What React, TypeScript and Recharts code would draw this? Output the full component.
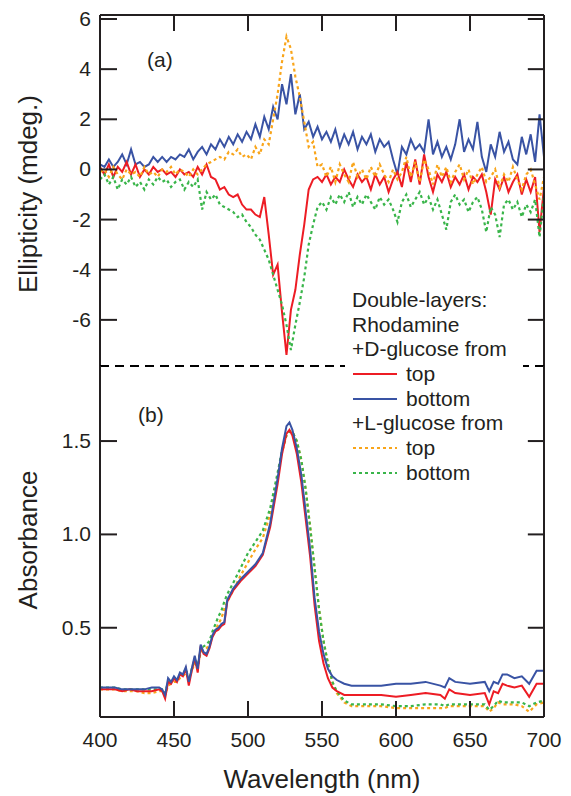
import React from "react";
import { LineChart, Line, XAxis, YAxis, ReferenceLine } from "recharts";

// ---- data ----
// (a) circular dichroism, mdeg
const wl = [
  400, 403, 406, 409, 412, 415, 418, 421, 424, 427,
  430, 433, 436, 439, 442, 445, 448, 451, 454, 457,
  460, 463, 466, 469, 472, 475, 478, 481, 484, 487,
  490, 493, 496, 499, 502, 505, 508, 511, 514, 517,
  520, 523, 526, 529, 532, 535, 538, 541, 544, 547,
  550, 553, 556, 559, 562, 565, 568, 571, 574, 577,
  580, 583, 586, 589, 592, 595, 598, 601, 604, 607,
  610, 613, 616, 619, 622, 625, 628, 631, 634, 637,
  640, 643, 646, 649, 652, 655, 658, 661, 664, 667,
  670, 673, 676, 679, 682, 685, 688, 691, 694, 697,
  700,
];

const cdDBottom = [
  0.2, 0.1, 0.4, 0.1, 0.3, 0.6, 0.2, 0.8, 0.2, 0.3,
  0.1, 0.2, 0.5, 0.3, 0.5, 0.3, 0.5, 0.4, 0.6, 0.5,
  0.8, 0.4, 0.7, 0.9, 0.6, 1.0, 0.8, 1.2, 0.9, 1.3,
  1.0, 1.4, 1.1, 1.5, 1.2, 1.8, 1.3, 2.1, 1.6, 2.5,
  2.0, 3.4, 2.6, 3.8, 2.2, 3.0, 1.6, 1.9, 1.3, 1.7,
  1.2, 1.5, 1.1, 1.6, 0.9, 1.4, 1.0, 1.5, 0.8, 1.3,
  1.0, 1.4, 0.7, 1.2, 0.9, 1.1, 0.4, -0.2, 0.9, 0.6,
  1.2, 0.8, 1.0, 0.7, 2.0, 0.6, 1.1, 0.5, 0.9, 0.4,
  1.0, 2.0, 0.7, 1.2, 0.8, 1.9, 0.5, -0.1, 1.0, 0.5,
  1.5, 0.7, 1.1, 0.4, 0.2, 1.3, 0.6, 1.4, 0.3, 2.2,
  0.5,
];

const cdDTop = [
  0.1, -0.2, 0.2, -0.3, 0.1, -0.1, 0.3, -0.2, 0.2, -0.3,
  0.0, -0.2, 0.1, -0.1, 0.0, -0.2, -0.1, -0.3, 0.0, -0.2,
  -0.1, -0.3, 0.1, -0.2, 0.2, -0.3, -0.4, -0.8, -0.7, -1.0,
  -1.1, -1.0, -1.4, -1.6, -1.6, -1.8, -1.9, -1.1, -2.6, -4.2,
  -3.8, -5.7, -7.4, -5.6, -4.8, -3.4, -2.2, -0.8, -0.4, -0.3,
  -0.5, -0.2, -0.6, -0.3, -0.5, 0.0, -0.4, -0.7, -0.2, -0.5,
  -0.3, -0.8, -0.2, -0.6, -0.3, -0.9, -0.4, -0.1, -0.7, 0.3,
  -0.5, 0.4, -0.6, 0.6, -0.3, -0.9, -0.2, -0.5, -0.1, -0.7,
  -0.3, -0.6, -0.2, -0.8, -0.3, -0.5, -0.2, -0.9, -1.8, -0.4,
  -0.8, -0.3, -0.9, -0.5, -0.2, -1.0, -0.4, -0.9, -0.3, -2.5,
  -0.7,
];

const cdLTop = [
  -0.1, 0.0, -0.3, 0.1, -0.2, -0.4, 0.0, -0.2, -0.1, -0.3,
  0.1, -0.2, -0.1, -0.3, 0.0, -0.1, 0.1, -0.2, 0.0, -0.1,
  -0.3, 0.0, -0.2, 0.0, 0.2, 0.3, 0.4, 0.5, 0.4, 0.7,
  0.6, 0.8, 0.5, 0.6, 0.4, 0.9, 0.6, 1.2, 1.0, 2.0,
  3.0, 4.3, 5.3, 4.8, 3.7, 2.9, 1.9, 0.9, 1.1, 0.1,
  0.2, -0.3, 0.1, -0.5, 0.2, -0.2, -0.5, 0.3, -0.3, 0.0,
  -0.4, 0.1, -0.3, 0.2, -0.2, -0.5, 0.0, -0.4, -0.1, 0.5,
  -0.3, 0.3, -0.5, 0.4, 0.0, -0.6, 0.2, -0.3, 0.1, -0.5,
  -0.1, 0.2, -0.4, 0.0, -0.6, -0.2, 0.1, -0.5, -0.3, 0.0,
  -0.7, -0.2, -0.5, 0.1, -0.4, -0.8, -0.2, 0.0, -0.6, -1.2,
  -0.3,
];

const cdLBottom = [
  -0.4, -0.2, -0.6, -0.3, -0.8, -0.4, -0.6, -0.3, -0.7, -0.5,
  -0.8, -0.4, -0.6, -0.3, -0.5, -0.4, -0.7, -0.5, -0.4, -0.8,
  -0.5, -0.7, -0.4, -1.6, -0.9, -1.2, -1.0, -1.4, -1.5, -1.6,
  -1.7, -1.9, -1.8, -2.1, -2.3, -2.6, -2.8, -3.2, -3.6, -4.2,
  -4.8, -5.4, -6.2, -7.2, -6.2, -5.3, -4.3, -3.0, -2.2, -1.5,
  -1.3, -1.6, -1.1, -1.4, -1.0, -1.3, -0.9, -1.5, -1.1, -1.4,
  -1.0, -1.3, -1.6, -1.1, -1.4, -1.2, -1.6, -2.1, -1.3, -1.0,
  -1.5, -1.2, -0.9, -1.4, -1.1, -1.6, -1.2, -1.8, -2.4, -1.3,
  -1.0, -1.4, -1.2, -1.7, -1.3, -1.1, -1.6, -2.5, -1.5, -1.8,
  -2.7, -1.4, -1.2, -1.6, -1.3, -1.9, -1.4, -1.7, -1.2, -2.7,
  -1.0,
];

// (b) absorbance
const absWl = [
  400, 405, 410, 415, 420, 425, 430, 435, 440,
  442, 444, 446, 448, 450, 452, 454, 456, 458, 460,
  462, 464, 466, 468, 470, 472, 474, 476, 478, 480,
  482, 484, 486, 488, 490, 495, 500, 505, 510, 515,
  520, 523, 526, 528, 530, 533, 536, 539, 542, 545,
  548, 551, 554, 557, 560, 565, 570, 580, 590, 600,
  610, 620, 630, 633, 636, 640, 650, 660, 663, 666,
  669, 672, 675, 680, 685, 690, 695, 700,
];

const absDBottom = [
  0.18, 0.18, 0.18, 0.17, 0.17, 0.17, 0.17, 0.18, 0.18,
  0.17, 0.14, 0.23, 0.21, 0.24, 0.22, 0.26, 0.25, 0.29, 0.21,
  0.28, 0.35, 0.28, 0.41, 0.37, 0.36, 0.40, 0.46, 0.49, 0.50,
  0.52, 0.53, 0.65, 0.68, 0.71, 0.76, 0.80, 0.84, 0.90, 1.06,
  1.30, 1.46, 1.58, 1.60, 1.56, 1.46, 1.32, 1.12, 0.92, 0.66,
  0.48, 0.36, 0.28, 0.24, 0.22, 0.20, 0.19, 0.19, 0.19, 0.20,
  0.20, 0.21, 0.19, 0.18, 0.23, 0.21, 0.20, 0.21, 0.16, 0.21,
  0.20, 0.25, 0.25, 0.23, 0.24, 0.20, 0.27, 0.27,
];

const absDTop = [
  0.17, 0.17, 0.17, 0.16, 0.17, 0.16, 0.16, 0.16, 0.17,
  0.16, 0.12, 0.21, 0.20, 0.23, 0.21, 0.25, 0.24, 0.28, 0.19,
  0.27, 0.34, 0.26, 0.40, 0.36, 0.35, 0.39, 0.45, 0.48, 0.49,
  0.51, 0.52, 0.64, 0.67, 0.70, 0.75, 0.79, 0.83, 0.89, 1.04,
  1.27, 1.43, 1.54, 1.56, 1.53, 1.43, 1.28, 1.08, 0.88, 0.62,
  0.43, 0.31, 0.23, 0.18, 0.16, 0.14, 0.14, 0.14, 0.14, 0.13,
  0.14, 0.15, 0.14, 0.12, 0.17, 0.15, 0.14, 0.15, 0.09, 0.16,
  0.15, 0.20, 0.19, 0.18, 0.19, 0.13, 0.20, 0.20,
];

const absLTop = [
  0.17, 0.17, 0.17, 0.16, 0.16, 0.16, 0.15, 0.15, 0.16,
  0.16, 0.14, 0.19, 0.20, 0.21, 0.21, 0.23, 0.24, 0.26, 0.22,
  0.27, 0.31, 0.28, 0.37, 0.38, 0.39, 0.41, 0.46, 0.49, 0.52,
  0.55, 0.60, 0.64, 0.67, 0.70, 0.78, 0.85, 0.92, 0.98, 1.11,
  1.31, 1.44, 1.53, 1.55, 1.55, 1.50, 1.40, 1.24, 1.04, 0.82,
  0.60, 0.43, 0.31, 0.21, 0.15, 0.10, 0.08, 0.08, 0.08, 0.07,
  0.07, 0.07, 0.07, 0.07, 0.08, 0.08, 0.08, 0.08, 0.05, 0.07,
  0.10, 0.09, 0.09, 0.09, 0.08, 0.05, 0.09, 0.10,
];

const absLBottom = [
  0.18, 0.18, 0.18, 0.17, 0.17, 0.17, 0.17, 0.17, 0.17,
  0.17, 0.15, 0.21, 0.21, 0.23, 0.22, 0.25, 0.25, 0.28, 0.22,
  0.28, 0.33, 0.29, 0.39, 0.40, 0.41, 0.43, 0.48, 0.52, 0.56,
  0.59, 0.64, 0.68, 0.71, 0.74, 0.82, 0.90, 0.96, 1.02, 1.14,
  1.33, 1.45, 1.53, 1.55, 1.55, 1.50, 1.40, 1.24, 1.04, 0.82,
  0.60, 0.43, 0.31, 0.21, 0.16, 0.11, 0.09, 0.09, 0.09, 0.08,
  0.08, 0.09, 0.09, 0.08, 0.09, 0.09, 0.09, 0.09, 0.06, 0.08,
  0.11, 0.10, 0.10, 0.10, 0.10, 0.08, 0.10, 0.11,
];

const xTicks = [400, 450, 500, 550, 600, 650, 700];
const innerXTicks = [450, 500, 550, 600, 650];
const cdTicks = [-6, -4, -2, 0, 2, 4, 6];
const absTicks = [0.5, 1.0, 1.5];

const legendRows = [
  { text: "Double-layers:" },
  { text: "Rhodamine" },
  { text: "+D-glucose from" },
  { text: "top", key: "dTop" },
  { text: "bottom", key: "dBottom" },
  { text: "+L-glucose from" },
  { text: "top", key: "lTop" },
  { text: "bottom", key: "lBottom" },
];

// ---- styling ----
const INK = "#231f20";
const FONT = "'Liberation Sans', Arial, sans-serif";

const X_MIN = 400;
const X_MAX = 700;
const CD_DOMAIN: [number, number] = [-7.84, 6.16];
const ABS_DOMAIN: [number, number] = [0.022, 1.902];
// inward tick lengths in data units (about 17px horizontally, 16px vertically)
const TICK_NM = 11.5;
const TICK_CD = 0.64;
const TICK_ABS = 0.086;

const seriesStyle: Record<string, { color: string; dash?: string; width: number }> = {
  dTop: { color: "#ed1c24", width: 2 },
  dBottom: { color: "#3953a4", width: 2 },
  lTop: { color: "#f9a51a", dash: "3 3", width: 2.2 },
  lBottom: { color: "#39b54a", dash: "3 3", width: 2.2 },
};

const cdRows = wl.map((w, i) => ({
  wl: w,
  dTop: cdDTop[i],
  dBottom: cdDBottom[i],
  lTop: cdLTop[i],
  lBottom: cdLBottom[i],
}));

const absRows = absWl.map((w, i) => ({
  wl: w,
  dTop: absDTop[i],
  dBottom: absDBottom[i],
  lTop: absLTop[i],
  lBottom: absLBottom[i],
}));

const leftLabel = (digits: number) => (props: any) => {
  const { x, y, payload } = props;
  return (
    <text x={x - 9} y={y} dy={7} textAnchor="end" fontSize={21} fill={INK}>
      {Number(payload.value).toFixed(digits)}
    </text>
  );
};

const bottomLabel = (props: any) => {
  const { x, y, payload } = props;
  return (
    <text x={x} y={y + 30} textAnchor="middle" fontSize={21} fill={INK}>
      {payload.value}
    </text>
  );
};

const frame = { stroke: INK, strokeWidth: 2 };

function lines(order: string[]) {
  return order.map((k) => (
    <Line
      key={k}
      xAxisId="x"
      yAxisId="l"
      dataKey={k}
      type="linear"
      dot={false}
      activeDot={false}
      stroke={seriesStyle[k].color}
      strokeWidth={seriesStyle[k].width}
      strokeDasharray={seriesStyle[k].dash}
      isAnimationActive={false}
    />
  ));
}

// frame edges and inward ticks, placed in data coordinates
function frameAndTicks(domain: [number, number], yTicks: number[], tickY: number, topTicks: boolean, bottomTicks: boolean) {
  const [y0, y1] = domain;
  const out: React.ReactNode[] = [];
  out.push(<ReferenceLine key="fl" xAxisId="x" yAxisId="l" x={X_MIN} {...frame} />);
  out.push(<ReferenceLine key="fr" xAxisId="x" yAxisId="l" x={X_MAX} {...frame} />);
  yTicks.forEach((t) => {
    out.push(
      <ReferenceLine key={"l" + t} xAxisId="x" yAxisId="l" segment={[{ x: X_MIN, y: t }, { x: X_MIN + TICK_NM, y: t }]} {...frame} />
    );
    out.push(
      <ReferenceLine key={"r" + t} xAxisId="x" yAxisId="l" segment={[{ x: X_MAX - TICK_NM * 0.95, y: t }, { x: X_MAX, y: t }]} {...frame} />
    );
  });
  if (topTicks) {
    out.push(<ReferenceLine key="ft" xAxisId="x" yAxisId="l" y={y1} {...frame} />);
    innerXTicks.forEach((t) =>
      out.push(
        <ReferenceLine key={"t" + t} xAxisId="x" yAxisId="l" segment={[{ x: t, y: y1 }, { x: t, y: y1 - tickY }]} {...frame} />
      )
    );
  }
  if (bottomTicks) {
    out.push(<ReferenceLine key="fb" xAxisId="x" yAxisId="l" y={y0} {...frame} />);
    innerXTicks.forEach((t) =>
      out.push(
        <ReferenceLine key={"b" + t} xAxisId="x" yAxisId="l" segment={[{ x: t, y: y0 }, { x: t, y: y0 + tickY }]} {...frame} />
      )
    );
  }
  return out;
}

function Legend() {
  return (
    <div
      style={{
        position: "absolute",
        left: 345,
        top: 288,
        width: 178,
        background: "#fff",
        fontSize: 21,
        lineHeight: "24.7px",
        color: INK,
        paddingLeft: 7,
        boxSizing: "border-box",
      }}
    >
      {legendRows.map((r, i) => (
        <div key={i} style={{ display: "flex", alignItems: "center", whiteSpace: "nowrap", height: 24.7 }}>
          {r.key && (
            <svg width={54} height={10} style={{ flex: "none" }}>
              <line
                x1={1}
                x2={45}
                y1={5}
                y2={5}
                stroke={seriesStyle[r.key].color}
                strokeWidth={seriesStyle[r.key].width}
                strokeDasharray={seriesStyle[r.key].dash}
              />
            </svg>
          )}
          <span>{r.text}</span>
        </div>
      ))}
    </div>
  );
}

export default function App() {
  return (
    <div
      style={{
        position: "absolute",
        left: 0,
        top: 0,
        width: 571,
        height: 796,
        background: "#fff",
        fontFamily: FONT,
        overflow: "hidden",
      }}
    >
      {/* (a) ellipticity: plot area 15..366 */}
      <div style={{ position: "absolute", left: 0, top: 0 }}>
        <LineChart width={571} height={376} data={cdRows} margin={{ top: 15, right: 27, bottom: 10, left: 0 }}>
          <XAxis xAxisId="x" dataKey="wl" type="number" domain={[X_MIN, X_MAX]} allowDataOverflow hide />
          <YAxis
            yAxisId="l"
            orientation="left"
            type="number"
            domain={CD_DOMAIN}
            allowDataOverflow
            ticks={cdTicks}
            width={100}
            tickSize={0}
            tickMargin={0}
            tickLine={false}
            axisLine={false}
            tick={leftLabel(0)}
            interval={0}
          />
          {lines(["dBottom", "dTop", "lBottom", "lTop"])}
          {frameAndTicks(CD_DOMAIN, cdTicks, TICK_CD, true, false)}
        </LineChart>
      </div>

      {/* (b) absorbance: plot area 366..717 */}
      <div style={{ position: "absolute", left: 0, top: 356 }}>
        <LineChart width={571} height={440} data={absRows} margin={{ top: 10, right: 27, bottom: 0, left: 0 }}>
          <XAxis
            xAxisId="x"
            orientation="bottom"
            dataKey="wl"
            type="number"
            domain={[X_MIN, X_MAX]}
            allowDataOverflow
            ticks={xTicks}
            height={79}
            tickSize={0}
            tickMargin={0}
            tickLine={false}
            axisLine={false}
            tick={bottomLabel}
            interval={0}
          />
          <YAxis
            yAxisId="l"
            orientation="left"
            type="number"
            domain={ABS_DOMAIN}
            allowDataOverflow
            ticks={absTicks}
            width={100}
            tickSize={0}
            tickMargin={0}
            tickLine={false}
            axisLine={false}
            tick={leftLabel(1)}
            interval={0}
          />
          <ReferenceLine
            xAxisId="x"
            yAxisId="l"
            y={ABS_DOMAIN[1]}
            stroke="#000"
            strokeWidth={2}
            strokeDasharray="9 6"
          />
          {lines(["lTop", "lBottom", "dTop", "dBottom"])}
          {frameAndTicks(ABS_DOMAIN, absTicks, TICK_ABS, false, true)}
        </LineChart>
      </div>

      {/* titles and panel tags */}
      <svg
        width={571}
        height={796}
        style={{ position: "absolute", left: 0, top: 0, pointerEvents: "none" }}
      >
        <text x={147} y={67} fontSize={21} fill={INK}>(a)</text>
        <text x={138} y={422} fontSize={21} fill={INK}>(b)</text>
        <text transform="translate(37,194) rotate(-90)" textAnchor="middle" fontSize={26} fill={INK}>
          Ellipticity (mdeg.)
        </text>
        <text transform="translate(37,540) rotate(-90)" textAnchor="middle" fontSize={26} fill={INK}>
          Absorbance
        </text>
        <text x={322} y={788} textAnchor="middle" fontSize={26} fill={INK}>
          Wavelength (nm)
        </text>
      </svg>

      <Legend />
    </div>
  );
}
